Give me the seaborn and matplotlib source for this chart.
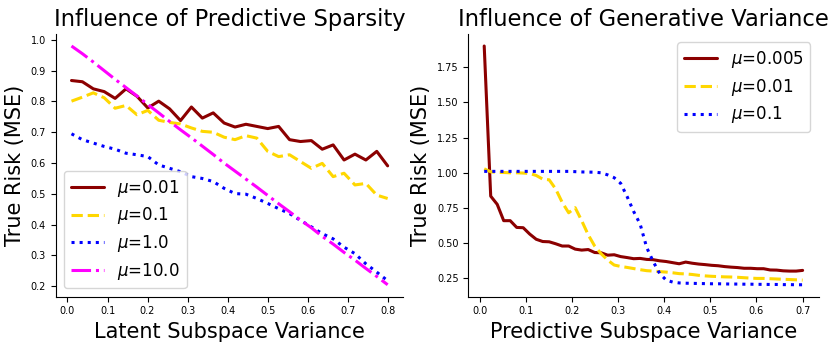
import numpy as np
import pandas as pd
import matplotlib
matplotlib.use("Agg")
import matplotlib.pyplot as plt
import seaborn as sns

# left panel: influence of predictive sparsity
latent_var = np.linspace(0.01, 0.8, 30)
sparsity_mu = ["0.01", "0.1", "1.0", "10.0"]
risk_mu_001 = [0.868, 0.864, 0.841, 0.832, 0.810, 0.841, 0.817, 0.779, 0.801, 0.776,
               0.738, 0.782, 0.746, 0.763, 0.730, 0.717, 0.726, 0.719, 0.712, 0.719,
               0.676, 0.670, 0.673, 0.645, 0.659, 0.610, 0.629, 0.610, 0.638, 0.591]
risk_mu_01 = [0.801, 0.814, 0.828, 0.812, 0.778, 0.787, 0.757, 0.771, 0.739, 0.732,
              0.727, 0.714, 0.703, 0.700, 0.684, 0.676, 0.689, 0.681, 0.638, 0.621,
              0.627, 0.605, 0.583, 0.599, 0.556, 0.567, 0.529, 0.534, 0.496, 0.485]
risk_mu_1 = [0.695, 0.676, 0.665, 0.654, 0.645, 0.632, 0.627, 0.621, 0.594, 0.583,
             0.572, 0.556, 0.550, 0.540, 0.518, 0.501, 0.499, 0.485, 0.469, 0.452,
             0.436, 0.414, 0.393, 0.371, 0.354, 0.327, 0.306, 0.273, 0.246, 0.218]
risk_mu_10 = [0.980, 0.955, 0.928, 0.900, 0.872, 0.845, 0.818, 0.790, 0.763, 0.735,
              0.708, 0.682, 0.655, 0.628, 0.600, 0.574, 0.548, 0.522, 0.495, 0.468,
              0.442, 0.415, 0.390, 0.362, 0.337, 0.310, 0.285, 0.258, 0.232, 0.205]

# right panel: influence of generative variance
pred_var = np.linspace(0.01, 0.7, 50)
gen_mu = ["0.005", "0.01", "0.1"]
risk_g_0005 = [1.900, 0.834, 0.776, 0.660, 0.660, 0.612, 0.610, 0.565, 0.528, 0.512,
               0.510, 0.496, 0.480, 0.480, 0.458, 0.451, 0.455, 0.434, 0.432, 0.415,
               0.418, 0.405, 0.398, 0.390, 0.392, 0.385, 0.383, 0.375, 0.370, 0.362,
               0.354, 0.366, 0.358, 0.352, 0.348, 0.343, 0.340, 0.334, 0.330, 0.327,
               0.322, 0.322, 0.319, 0.319, 0.310, 0.309, 0.304, 0.302, 0.302, 0.307]
risk_g_001 = [1.028, 1.007, 1.003, 1.002, 1.000, 1.000, 0.998, 0.995, 0.981, 0.955,
              0.950, 0.885, 0.790, 0.716, 0.752, 0.660, 0.560, 0.480, 0.425, 0.380,
              0.345, 0.335, 0.328, 0.320, 0.312, 0.305, 0.302, 0.298, 0.295, 0.290,
              0.284, 0.282, 0.278, 0.272, 0.268, 0.265, 0.263, 0.261, 0.260, 0.258,
              0.255, 0.252, 0.250, 0.250, 0.248, 0.246, 0.244, 0.242, 0.240, 0.238]
risk_g_01 = [1.010, 1.010, 1.010, 1.010, 1.010, 1.010, 1.010, 1.010, 1.010, 1.010,
             1.010, 1.010, 1.010, 1.010, 1.008, 1.006, 1.005, 1.004, 1.000, 0.985,
             0.965, 0.925, 0.830, 0.725, 0.635, 0.470, 0.370, 0.285, 0.238, 0.224,
             0.218, 0.216, 0.215, 0.214, 0.213, 0.212, 0.212, 0.211, 0.210, 0.210,
             0.209, 0.209, 0.208, 0.208, 0.207, 0.207, 0.206, 0.206, 0.205, 0.205]

colors = ["darkred", "gold", "blue", "magenta"]
styles = ["-", "--", ":", "-."]

sns.set_style("white", {"axes.edgecolor": "black", "text.color": "black",
                        "axes.labelcolor": "black", "xtick.color": "black",
                        "ytick.color": "black"})
fig = plt.figure(figsize=(8.3, 3.46), dpi=100)
ax1 = fig.add_axes([0.0671, 0.1425, 0.419, 0.759])
ax2 = fig.add_axes([0.5642, 0.1425, 0.422, 0.759])

left_series = [risk_mu_001, risk_mu_01, risk_mu_1, risk_mu_10]
for mu, y, c, ls in zip(sparsity_mu, left_series, colors, styles):
    sns.lineplot(x=latent_var, y=y, ax=ax1, color=c, linestyle=ls, linewidth=2.2,
                 label=r"$\mu$=" + mu)

right_series = [risk_g_0005, risk_g_001, risk_g_01]
for mu, y, c, ls in zip(gen_mu, right_series, colors, styles):
    sns.lineplot(x=pred_var, y=y, ax=ax2, color=c, linestyle=ls, linewidth=2.2,
                 label=r"$\mu$=" + mu)

ax1.set_title("Influence of Predictive Sparsity", fontsize=16.3)
ax1.set_xlabel("Latent Subspace Variance", fontsize=15)
ax1.set_ylabel("True Risk (MSE)", fontsize=15)
ax1.set_xticks(np.arange(0, 0.81, 0.1))
ax1.legend(loc="lower left", fontsize=12, labelspacing=0.4)

ax2.set_title("Influence of Generative Variance", fontsize=16.3)
ax2.set_xlabel("Predictive Subspace Variance", fontsize=15)
ax2.set_ylabel("True Risk (MSE)", fontsize=15)
ax2.set_xticks(np.arange(0, 0.71, 0.1))
ax2.set_yticks([0.25, 0.5, 0.75, 1.0, 1.25, 1.5, 1.75])
ax2.legend(loc="upper right", fontsize=12, labelspacing=0.4)

for ax in (ax1, ax2):
    ax.tick_params(axis="both", labelsize=7, length=3.5, width=0.8, left=True, bottom=True)
    sns.despine(ax=ax)

fig.savefig("out.png", dpi=100)
